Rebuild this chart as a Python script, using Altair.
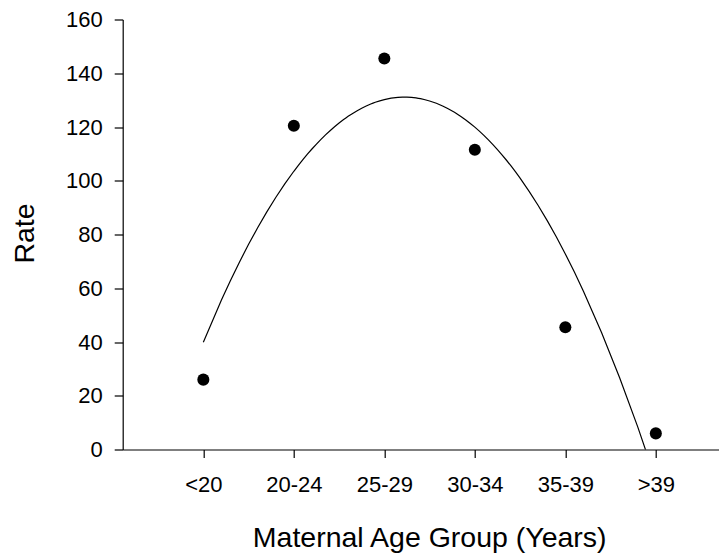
import json
import altair as alt
import pandas as pd

age_groups = ["<20", "20-24", "25-29", "30-34", "35-39", ">39"]
group_pos = [1, 2, 3, 4, 5, 6]
rates = [26, 120.5, 145.5, 111.5, 45.5, 6]
y_ticks = [0, 20, 40, 60, 80, 100, 120, 140, 160]

df = pd.DataFrame({"pos": group_pos, "rate": rates, "group": age_groups})

label_expr = json.dumps(age_groups) + "[datum.value - 1]"
FONT = "Liberation Sans"

x_enc = alt.X(
    "pos:Q",
    scale=alt.Scale(domain=[0.109, 6.698], nice=False, zero=False),
    axis=alt.Axis(
        values=group_pos,
        labelExpr=label_expr,
        title="Maternal Age Group (Years)",
        tickSize=8,
        labelPadding=16.6,
        labelFontSize=22,
        titleFontSize=28.5,
        titleX=306.5,
        titleY=88.1,
        titleBaseline="middle",
        titleAlign="center",
    ),
)
y_enc = alt.Y(
    "rate:Q",
    scale=alt.Scale(domain=[0, 160], nice=False),
    axis=alt.Axis(
        values=y_ticks,
        title="Rate",
        tickSize=8.5,
        labelPadding=12,
        labelFontSize=22,
        titleFontSize=28.5,
        titleX=-97.8,
        titleY=213.5,
        titleAngle=270,
        titleBaseline="middle",
        titleAlign="center",
    ),
)

points = alt.Chart(df).mark_circle(size=145, color="black", opacity=1).encode(
    x=x_enc, y=y_enc
)

curve = (
    alt.Chart(df)
    .transform_regression("pos", "rate", method="poly", order=2, extent=[1, 6])
    .mark_line(clip=True, color="black", strokeWidth=1.2)
    .encode(x=x_enc, y=y_enc)
)

chart = (
    alt.layer(curve, points)
    .properties(
        width=596.3,
        height=430,
        autosize=alt.AutoSizeParams(type="none"),
        padding={"left": 114.7, "top": 11.5, "right": 0, "bottom": 109},
    )
    .configure_view(stroke=None)
    .configure_axis(
        grid=False,
        domainColor="black",
        domainWidth=1.2,
        tickColor="black",
        tickWidth=1.2,
        labelColor="black",
        titleColor="black",
        labelFont=FONT,
        titleFont=FONT,
        titleFontWeight="normal",
    )
)

chart.save("out.html", embed_options={"renderer": "svg", "actions": False})
